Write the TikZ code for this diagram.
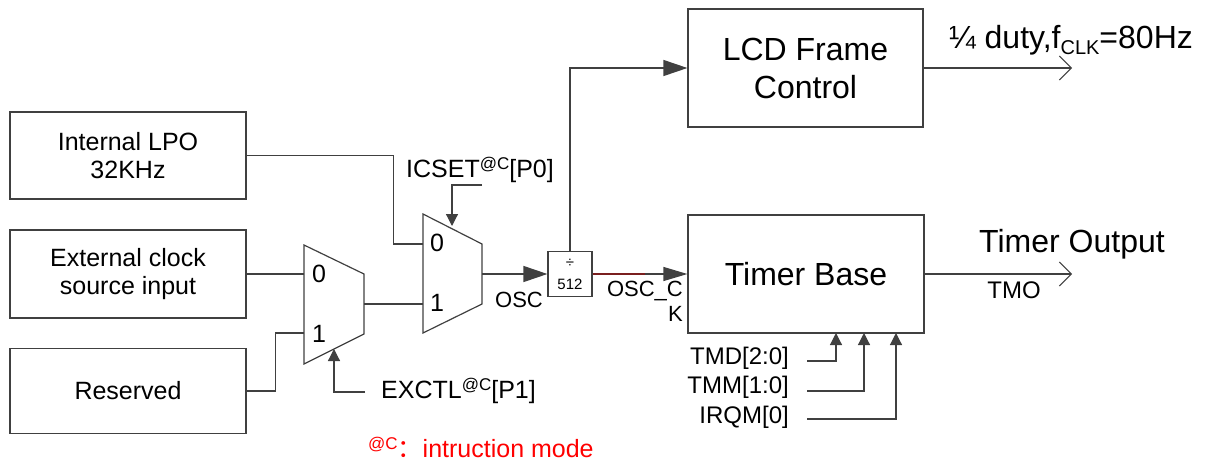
\documentclass[tikz,border=0pt]{standalone}
\usepackage{fontspec}
\setmainfont{Liberation Sans}
\newfontfamily\cjk{Noto Sans CJK SC}
\usetikzlibrary{arrows.meta}
\newcommand\supc{\raisebox{0.6ex}{\fontsize{17}{17}\selectfont @C}}
\newcommand\subclk{\raisebox{-0.35ex}{\fontsize{20}{20}\selectfont CLK}}
\definecolor{wirec}{HTML}{404040}
\definecolor{brownc}{HTML}{7A1F1F}
\tikzset{
  wire/.style={draw=wirec, line width=1.2pt},
  blk/.style={draw=wirec, line width=1.2pt, align=center, inner sep=0pt, font=\fontsize{25}{28}\selectfont},
  bigblk/.style={blk, font=\fontsize{32}{38}\selectfont},
  lbl/.style={inner sep=0pt, font=\fontsize{25}{28}\selectfont},
  biga/.style={-{Triangle[length=24pt,width=16pt]}},
  mida/.style={-{Triangle[length=24pt,width=14pt]}},
  smalla/.style={-{Triangle[length=12pt,width=12pt]}},
  opena/.style={-{Straight Barb[length=12pt,width=24pt,line width=1pt]}}
}
\begin{document}
\begin{tikzpicture}[x=1pt,y=-1pt]
\useasboundingbox (0,0) rectangle (1211,461);
% blocks
\node[blk, minimum width=236pt, minimum height=87pt] (ilpo) at (128,155.5) {Internal LPO\\32KHz};
\node[blk, minimum width=236pt, minimum height=88pt] (ext) at (128,274) {External clock\\source input};
\node[blk, minimum width=236pt, minimum height=85pt] (res) at (128,391) {Reserved};
\node[bigblk, minimum width=235pt, minimum height=118pt] (lcd) at (805.5,68) {LCD Frame\\Control};
\node[bigblk, minimum width=236pt, minimum height=118pt] (tb) at (806,274) {Timer Base};
\node[blk, minimum width=44pt, minimum height=45pt, font=\fontsize{15}{22}\selectfont] (div) at (570,274) {÷\\512};
% muxes
\draw[wire] (304,245) -- (364,274) -- (364,334) -- (304,364) -- cycle;
\draw[wire] (423,214) -- (482,244) -- (482,304) -- (423,333) -- cycle;
\coordinate (m1in0) at (304,274);
\coordinate (m1in1) at (304,333);
\coordinate (m1out) at (364,304);
\coordinate (m1sel) at (334,349);
\coordinate (m2in0) at (423,244);
\coordinate (m2in1) at (423,304);
\coordinate (m2out) at (482,274);
\coordinate (m2sel) at (452,226);
\node[lbl] (m1z) at (319,274) {0};
\node[lbl] (m1o) at (319,334) {1};
\node[lbl] (m2z) at (437,243) {0};
\node[lbl] (m2o) at (437,303) {1};
% select inputs
\coordinate (icA) at (482,185);
\coordinate (exA) at (365,392);
\node[lbl] (icset) at (480,170) {ICSET\supc[P0]};
\node[lbl, anchor=west] (exctl) at (381,391) {EXCTL\supc[P1]};
\draw[wire, smalla] (icA) -| (m2sel);
\draw[wire, smalla] (exA) -| (m1sel);
% connections
\draw[wire] (ilpo.east) -- ++(147,0) |- (m2in0);
\draw[wire] (ext.east) -- (m1in0);
\draw[wire] (res.east) -- ++(29,0) |- (m1in1);
\draw[wire] (m1out) -- (m2in1);
\draw[wire, biga] (m2out) -- (div.west);
\draw[wire, biga] (div.north) |- (lcd.west);
\draw[wire, mida] (div.east) -- (tb.west);
\coordinate (brownend) at (645,274);
\draw[brownc, line width=1.2pt] (div.east) -- (brownend);
\node[lbl, font=\fontsize{22}{25}\selectfont] (osc) at (519,300) {OSC};
\node[lbl, font=\fontsize{22}{25}\selectfont, align=right, anchor=north east] (oscck) at (683,281) {OSC\_C\\K};
% outputs
\coordinate (lcdout) at (1072,68);
\coordinate (tbout) at (1072,274);
\draw[wire, opena] (lcd.east) -- (lcdout);
\draw[wire, opena] (tb.east) -- (tbout);
\node[lbl, font=\fontsize{32}{34}\selectfont] (duty) at (1071,40) {¼ duty,f\subclk=80Hz};
\node[lbl, font=\fontsize{32}{34}\selectfont] (tout) at (1072,244) {Timer Output};
\node[lbl, font=\fontsize{24}{26}\selectfont] (tmo) at (1014,290) {TMO};
% timer controls
\coordinate (tb1) at (836,333);
\coordinate (tb2) at (864,333);
\coordinate (tb3) at (896,333);
\coordinate (c1) at (807,361);
\coordinate (c2) at (807,391);
\coordinate (c3) at (807,419);
\draw[wire, smalla] (c1) -| (tb1);
\draw[wire, smalla] (c2) -| (tb2);
\draw[wire, smalla] (c3) -| (tb3);
\node[lbl, anchor=east, font=\fontsize{24}{26}\selectfont] (tmd) at (789,358) {TMD[2:0]};
\node[lbl, anchor=east, font=\fontsize{24}{26}\selectfont] (tmm) at (789,387) {TMM[1:0]};
\node[lbl, anchor=east, font=\fontsize{24}{26}\selectfont] (irqm) at (789,417) {IRQM[0]};
% note
\node[lbl, text=red, anchor=west] (note) at (368,447) {\supc\smash{\cjk ：}intruction mode};
\end{tikzpicture}
\end{document}
